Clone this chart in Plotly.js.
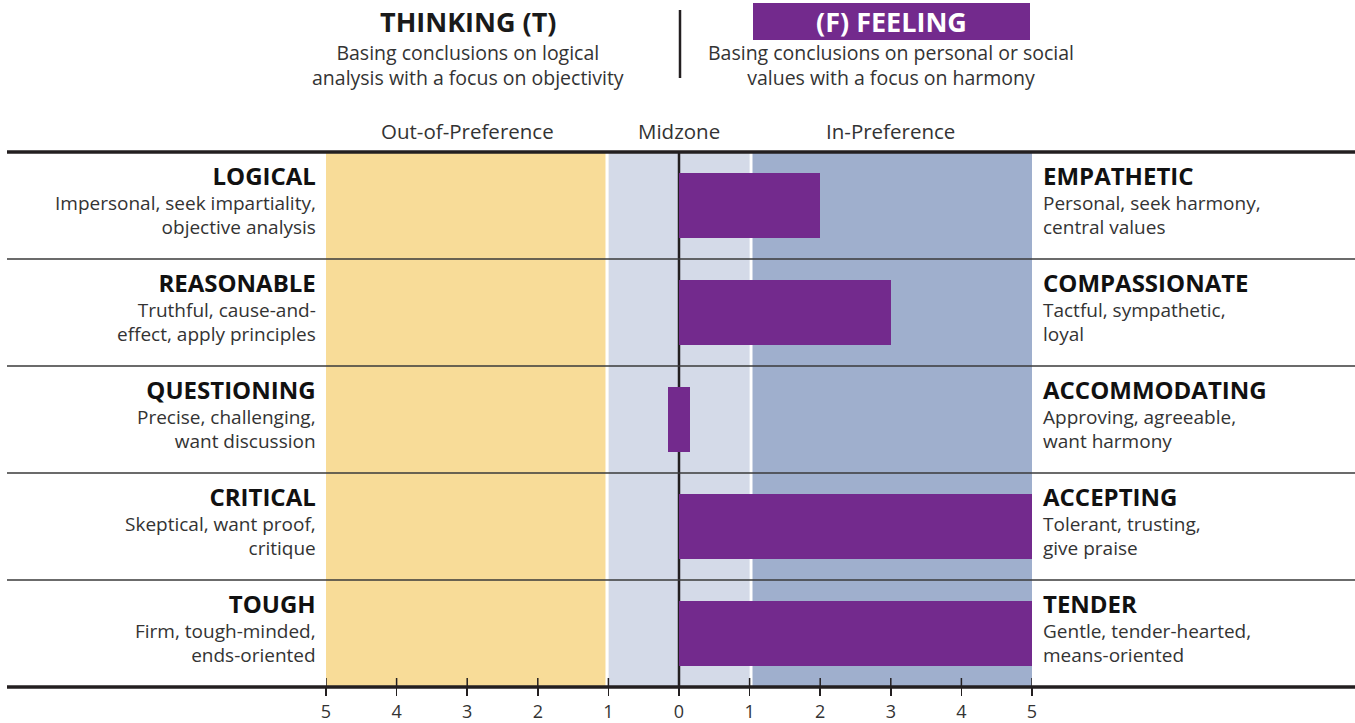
<!DOCTYPE html>
<html>
<head>
<meta charset="utf-8">
<script src="https://cdn.plot.ly/plotly-3.0.1.min.js"></script>
<style>html,body{margin:0;padding:0;background:#fff;}#chart{width:1355px;height:723px;}</style>
</head>
<body>
<div id="chart"></div>
<script>
// ---- data ----
const leftTraits = ['LOGICAL', 'REASONABLE', 'QUESTIONING', 'CRITICAL', 'TOUGH'];
const leftDesc = [
  ['Impersonal, seek impartiality,', 'objective analysis'],
  ['Truthful, cause-and-', 'effect, apply principles'],
  ['Precise, challenging,', 'want discussion'],
  ['Skeptical, want proof,', 'critique'],
  ['Firm, tough-minded,', 'ends-oriented']
];
const rightTraits = ['EMPATHETIC', 'COMPASSIONATE', 'ACCOMMODATING', 'ACCEPTING', 'TENDER'];
const rightDesc = [
  ['Personal, seek harmony,', 'central values'],
  ['Tactful, sympathetic,', 'loyal'],
  ['Approving, agreeable,', 'want harmony'],
  ['Tolerant, trusting,', 'give praise'],
  ['Gentle, tender-hearted,', 'means-oriented']
];
const scores = [2, 3, 0, 5, 5];   // positive = toward Feeling
const tickVals = [-5, -4, -3, -2, -1, 0, 1, 2, 3, 4, 5];
const tickText = ['5', '4', '3', '2', '1', '0', '1', '2', '3', '4', '5'];
const zoneLabels = ['Out-of-Preference', 'Midzone', 'In-Preference'];
const zoneBounds = [[-5, -1], [-1, 1], [1, 5]];

// ---- styling ----
const FONT = 'Open Sans, Noto Sans, sans-serif';
const PURPLE = '#732A8D';
const ZONE_COLORS = ['#F8DC98', '#D4DAE8', '#9FAFCD'];
const DARK = '#231F20';
const TXT = '#333333';

const W = 1355, H = 723, ML = 326, MR = 323, MT = 152, MB = 36;
const PW = W - ML - MR, PH = H - MT - MB;
const fx = px => (px - ML) / PW;
const fy = py => (H - MB - py) / PH;

const rows = leftTraits.map((_, i) => i);

// zero value drawn as a small centered marker
const barX = scores.map(s => s === 0 ? 0.3 : s);
const barBase = scores.map(s => s === 0 ? -0.15 : 0);

const trace = {
  type: 'bar', orientation: 'h',
  y: rows, x: barX, base: barBase,
  width: 0.6,
  marker: {color: PURPLE, line: {width: 0}},
  hoverinfo: 'skip'
};

const shapes = [];
zoneBounds.forEach((b, i) => {
  shapes.push({type: 'rect', layer: 'below', xref: 'x', yref: 'paper', x0: b[0], x1: b[1], y0: 0, y1: 1,
    fillcolor: ZONE_COLORS[i], line: {width: 0}});
});
[-1.02, 1.02].forEach(v => shapes.push({type: 'line', layer: 'below', xref: 'x', yref: 'paper', x0: v, x1: v, y0: 0, y1: 1,
  line: {color: '#FFFFFF', width: 3}}));
shapes.push({type: 'line', layer: 'below', xref: 'x', yref: 'paper', x0: 0, x1: 0, y0: 0, y1: 1,
  line: {color: DARK, width: 2.5}});
for (let i = 1; i < rows.length; i++) {
  const p = 1 - i / rows.length;
  shapes.push({type: 'line', layer: 'above', xref: 'paper', yref: 'paper', x0: fx(7), x1: fx(1355), y0: p, y1: p,
    line: {color: '#3A3A3A', width: 1.6}});
}
[0, 1].forEach(p => shapes.push({type: 'line', layer: 'above', xref: 'paper', yref: 'paper', x0: fx(7), x1: fx(1355), y0: p, y1: p,
  line: {color: DARK, width: 3.5}}));
tickVals.forEach(v => shapes.push({type: 'line', layer: 'above', xref: 'x', yref: 'paper', x0: v, x1: v, y0: 0, y1: 9 / PH,
  line: {color: DARK, width: 1.5}}));
shapes.push({type: 'line', layer: 'above', xref: 'paper', yref: 'paper', x0: fx(680), x1: fx(680), y0: fy(10), y1: fy(78),
  line: {color: DARK, width: 2.5}});
shapes.push({type: 'rect', layer: 'above', xref: 'paper', yref: 'paper', x0: fx(753), x1: fx(1030), y0: fy(40), y1: fy(3),
  fillcolor: PURPLE, line: {width: 0}});

const annotations = [];
function ann(text, x, y, opts) {
  annotations.push(Object.assign({text: text, x: x, y: y, showarrow: false, xanchor: 'center', yanchor: 'middle',
    font: {family: FONT, size: 19, color: TXT}}, opts));
}
const P = {xref: 'paper', yref: 'paper'};
ann('<b>THINKING (T)</b>', fx(468), fy(22), Object.assign({font: {family: FONT, size: 27, color: '#1A1A1A'}}, P));
ann('<b>(F) FEELING</b>', fx(891), fy(22), Object.assign({font: {family: FONT, size: 27, color: '#FFFFFF'}}, P));
ann('Basing conclusions on logical<br>analysis with a focus on objectivity', fx(468), fy(65),
  Object.assign({font: {family: FONT, size: 19.5, color: TXT}}, P));
ann('Basing conclusions on personal or social<br>values with a focus on harmony', fx(891), fy(65),
  Object.assign({font: {family: FONT, size: 19.5, color: TXT}}, P));
zoneBounds.forEach((b, i) => {
  ann(zoneLabels[i], (b[0] + b[1]) / 2, fy(131), {xref: 'x', yref: 'paper', font: {family: FONT, size: 20.5, color: TXT}});
});
const titleSpan = t => '<span style="font-size:24px;font-weight:bold;color:#111111">' + t + '</span>';
rows.forEach(i => {
  ann(titleSpan(leftTraits[i]) + '<br>' + leftDesc[i].join('<br>'), -5, i,
    {xref: 'x', yref: 'y', xanchor: 'right', align: 'right', xshift: -8, yshift: 6});
  ann(titleSpan(rightTraits[i]) + '<br>' + rightDesc[i].join('<br>'), 5, i,
    {xref: 'x', yref: 'y', xanchor: 'left', align: 'left', xshift: 9, yshift: 6});
});

const layout = {
  width: W, height: H,
  margin: {l: ML, r: MR, t: MT, b: MB, pad: 0},
  paper_bgcolor: '#FFFFFF', plot_bgcolor: 'rgba(0,0,0,0)',
  showlegend: false,
  bargap: 0,
  xaxis: {range: [-5, 5], tickvals: tickVals, ticktext: tickText, ticks: 'outside', ticklen: 8, tickwidth: 1.5,
    tickcolor: DARK, showgrid: false, zeroline: false, showline: false, fixedrange: true,
    tickfont: {family: FONT, size: 18, color: TXT}},
  yaxis: {range: [rows.length - 0.5, -0.5], visible: false, fixedrange: true},
  shapes: shapes,
  annotations: annotations
};

Plotly.newPlot('chart', [trace], layout, {displayModeBar: false, staticPlot: true});
</script>
</body>
</html>
